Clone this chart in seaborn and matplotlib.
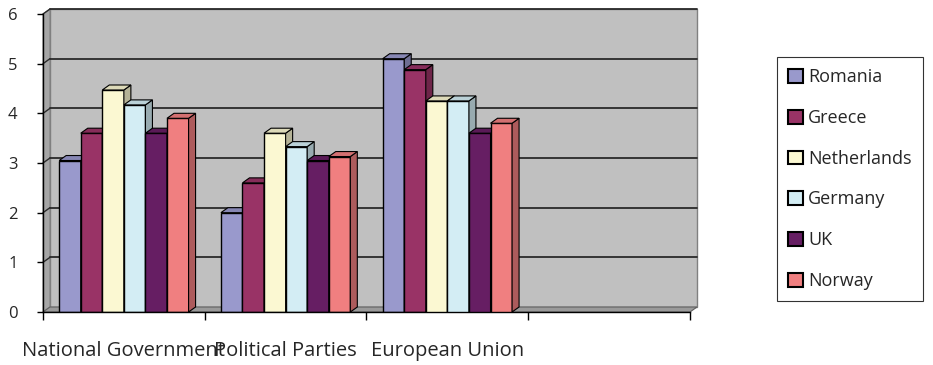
import numpy as np
import pandas as pd
import matplotlib
matplotlib.use("Agg")
import matplotlib.pyplot as plt
import seaborn as sns
from matplotlib.patches import Polygon, Rectangle
from matplotlib.colors import to_rgb

# data
categories = ["National Government", "Political Parties", "European Union"]
countries = ["Romania", "Greece", "Netherlands", "Germany", "UK", "Norway"]
romania = [3.05, 2.0, 5.1]
greece = [3.6, 2.6, 4.88]
netherlands = [4.47, 3.6, 4.25]
germany = [4.17, 3.33, 4.25]
uk = [3.6, 3.05, 3.6]
norway = [3.9, 3.13, 3.8]
colors = ["#9999CC", "#993366", "#FBF8D2", "#D3EDF4", "#661E63", "#F07F80"]

series = [romania, greece, netherlands, germany, uk, norway]
rows = []
for name, vals in zip(countries, series):
    for cat, v in zip(categories, vals):
        rows.append({"category": cat, "country": name, "value": v})
df = pd.DataFrame(rows)
order = categories + [""]   # empty fourth slot like the original

sns.set_style("white")
plt.rcParams["font.family"] = ["Open Sans", "DejaVu Sans"]

fig = plt.figure(figsize=(9.33, 3.65), dpi=100)
ax = fig.add_axes([43 / 933, 1 - 312 / 365, (690 - 43) / 933, (312 - 14) / 365])

sns.barplot(data=df, x="category", y="value", hue="country", order=order,
            hue_order=countries, palette=colors, edgecolor="black",
            linewidth=1, width=0.8, ax=ax, saturation=1)

ax.set_xlim(-0.5, 3.5)
ax.set_ylim(0, 6)

# 3d depth offsets in data units (about 7px right, 5px up)
dx = 7 / 161.75
dy = 5 / 49.7

# back wall, left wall and floor
ax.add_patch(Rectangle((-0.5 + dx, dy), 4, 6, facecolor="#C0C0C0",
                       edgecolor="#808080", lw=1, zorder=0, clip_on=False))
ax.add_patch(Polygon([(-0.5, 0), (-0.5, 6), (-0.5 + dx, 6 + dy), (-0.5 + dx, dy)],
                     closed=True, facecolor="#A6A6A6", edgecolor="#808080",
                     lw=0.8, zorder=0.2, clip_on=False))
ax.add_patch(Polygon([(-0.5, 0), (3.5, 0), (3.5 + dx, dy), (-0.5 + dx, dy)],
                     closed=True, facecolor="#9A9A9A", edgecolor="#606060",
                     lw=0.8, zorder=0.2, clip_on=False))
for k in range(1, 7):
    ax.plot([-0.5 + dx, 3.5 + dx], [k + dy, k + dy], color="#2A2A2A", lw=1.3,
            zorder=0.5, clip_on=False)
    ax.plot([-0.5, -0.5 + dx], [k, k + dy], color="#2A2A2A", lw=1.0,
            zorder=0.5, clip_on=False)

# give each bar a top and side face
bars = [p for p in ax.patches if isinstance(p, Rectangle)
        and p.get_height() > 0 and p.get_zorder() > 0.9 and p.get_width() < 0.5]
bars.sort(key=lambda p: p.get_x())
for k, p in enumerate(bars):
    x0, w, h = p.get_x(), p.get_width(), p.get_height()
    base = np.array(to_rgb(p.get_facecolor()))
    p.set_zorder(3 + 2 * k)
    side = Polygon([(x0 + w, 0), (x0 + w + dx, dy), (x0 + w + dx, h + dy), (x0 + w, h)],
                   closed=True, facecolor=base * 0.72, edgecolor="black", lw=0.8,
                   zorder=4 + 2 * k)
    top = Polygon([(x0, h), (x0 + dx, h + dy), (x0 + w + dx, h + dy), (x0 + w, h)],
                  closed=True, facecolor=base * 0.88, edgecolor="black", lw=0.8,
                  zorder=4 + 2 * k)
    ax.add_patch(side)
    ax.add_patch(top)

# axes styling
for s in ["top", "right"]:
    ax.spines[s].set_visible(False)
for s in ["left", "bottom"]:
    ax.spines[s].set_color("black")
    ax.spines[s].set_linewidth(1.0)
    ax.spines[s].set_zorder(30)

ax.set_yticks(range(7))
ax.tick_params(axis="y", direction="out", length=4.3, width=1, color="black",
               labelsize=12, pad=14, left=True)
ax.set_xticks([-0.5, 0.5, 1.5, 2.5, 3.5])
ax.set_xticklabels([])
ax.tick_params(axis="x", which="major", direction="out", length=5.5, width=1,
               color="black", bottom=True)
ax.set_xticks([0, 1, 2], minor=True)
ax.set_xticklabels(categories, minor=True)
ax.tick_params(axis="x", which="minor", length=0, labelsize=14.5, pad=21)
ax.set_xlabel("")
ax.set_ylabel("")

handles, labels = ax.get_legend_handles_labels()
if ax.get_legend() is not None:
    ax.get_legend().remove()
for h in handles:
    h.set_edgecolor("black")
    h.set_linewidth(1.5)
leg = fig.legend(handles, labels, loc="upper left",
                 bbox_to_anchor=(777 / 933, 1 - 57 / 365), frameon=True,
                 fancybox=False, edgecolor="black", fontsize=13,
                 handlelength=0.8, handleheight=0.8, handletextpad=0.3,
                 labelspacing=1.26, borderpad=0.62, borderaxespad=0)
leg.get_frame().set_linewidth(0.8)

fig.savefig("out.png", dpi=100)
